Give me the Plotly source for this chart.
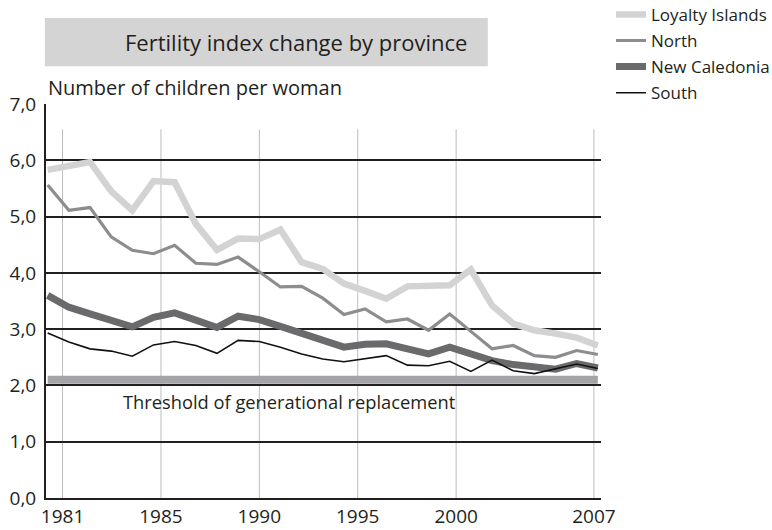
import plotly.graph_objects as go

years = list(range(1981, 2008))

loyalty = [5.83, 5.90, 5.97, 5.45, 5.11, 5.63, 5.61, 4.87, 4.41, 4.61, 4.60, 4.77, 4.19, 4.07,
           3.81, 3.68, 3.54, 3.76, 3.77, 3.78, 4.06, 3.42, 3.10, 2.98, 2.92, 2.85, 2.71]
north = [5.56, 5.11, 5.16, 4.64, 4.40, 4.34, 4.49, 4.17, 4.15, 4.28, 4.02, 3.75, 3.76, 3.55,
         3.26, 3.36, 3.13, 3.18, 2.98, 3.27, 2.96, 2.65, 2.71, 2.53, 2.50, 2.62, 2.55]
new_caledonia = [3.60, 3.39, 3.27, 3.16, 3.04, 3.21, 3.29, 3.16, 3.03, 3.23, 3.17, 3.05, 2.92, 2.80,
                 2.68, 2.73, 2.74, 2.65, 2.56, 2.68, 2.56, 2.44, 2.37, 2.32, 2.29, 2.39, 2.31]
south = [2.93, 2.77, 2.65, 2.61, 2.52, 2.72, 2.78, 2.71, 2.57, 2.80, 2.78, 2.68, 2.56, 2.47,
         2.42, 2.47, 2.53, 2.36, 2.35, 2.43, 2.25, 2.45, 2.26, 2.21, 2.29, 2.38, 2.30]
threshold = 2.1

x_tick_vals = [1980, 1985, 1990, 1995, 2000, 2007]
x_tick_text = ["1981", "1985", "1990", "1995", "2000", "2007"]
y_tick_vals = [0, 1, 2, 3, 4, 5, 6, 7]
y_tick_text = ["0,0", "1,0", "2,0", "3,0", "4,0", "5,0", "6,0", "7,0"]

FONT = "Open Sans"
TXT = "#231f20"

fig = go.Figure()

series = [
    ("Loyalty Islands", loyalty, "#d3d3d3", 6.5),
    ("North", north, "#8d8d8f", 3.2),
    ("New Caledonia", new_caledonia, "#6a6a6d", 7),
    ("South", south, "#111111", 1.6),
]

# threshold line
fig.add_trace(go.Scatter(x=[years[0], years[-1]], y=[threshold, threshold], mode="lines",
                         line=dict(color="#a4a4a6", width=8), showlegend=False, hoverinfo="skip"))

for name, vals, col, w in series:
    fig.add_trace(go.Scatter(x=years, y=vals, name=name, mode="lines",
                             line=dict(color=col, width=w), legendgroup=name))

# vertical gridlines on the secondary axis
for v in x_tick_vals:
    fig.add_shape(type="line", xref="x2", yref="y", x0=v, x1=v, y0=0, y1=6.55,
                  line=dict(color="#bdbdbd", width=1), layer="below")

# title box
fig.add_shape(type="rect", xref="paper", yref="paper", x0=-0.002, x1=0.796, y0=1.096, y1=1.218,
              fillcolor="#d4d4d4", line=dict(width=0), layer="below")

fig.add_annotation(text="Fertility index change by province", xref="paper", yref="paper",
                   x=0.45, y=1.157, showarrow=False, font=dict(family=FONT, size=22, color=TXT),
                   xanchor="center", yanchor="middle")
fig.add_annotation(text="Number of children per woman", xref="paper", yref="paper",
                   x=0.0, y=1.043, showarrow=False, font=dict(family=FONT, size=20, color=TXT),
                   xanchor="left", yanchor="middle")
fig.add_annotation(text="Threshold of generational replacement", xref="paper", yref="y",
                   x=0.135, y=1.71, showarrow=False, font=dict(family=FONT, size=18.3, color=TXT),
                   xanchor="left", yanchor="middle")

fig.update_layout(
    width=772, height=530,
    margin=dict(l=46, r=171, t=104, b=32, autoexpand=False),
    paper_bgcolor="white", plot_bgcolor="white",
    font=dict(family=FONT, color=TXT),
    xaxis=dict(range=[1980.92, 2007.15], showgrid=False, zeroline=False, showticklabels=False,
               showline=False, ticks=""),
    xaxis2=dict(range=[1979.16, 2007.36], overlaying="x", side="bottom", tickvals=x_tick_vals,
                ticktext=x_tick_text, showgrid=False, zeroline=False, showline=True,
                linecolor="#231f20", linewidth=2, ticks="", tickfont=dict(size=19, color=TXT)),
    yaxis=dict(range=[0, 7], tickvals=y_tick_vals, ticktext=y_tick_text, showgrid=True,
               gridcolor="#231f20", gridwidth=1.5, zeroline=False, showline=True,
               linecolor="#231f20", linewidth=2, ticks="", tickfont=dict(size=19, color=TXT),
               ticklabelstandoff=4),
    legend=dict(x=1.018, y=1.272, xref="paper", yref="paper", xanchor="left", yanchor="top",
                font=dict(family=FONT, size=17, color=TXT), bgcolor="rgba(0,0,0,0)",
                tracegroupgap=1, itemwidth=30),
)

# attach a dummy trace to xaxis2 so it renders
fig.add_trace(go.Scatter(x=[x_tick_vals[0]], y=[None], xaxis="x2", showlegend=False,
                         hoverinfo="skip"))

fig.write_html("out.html", config={"displayModeBar": False},
               post_script="document.body.style.margin='0px';")
